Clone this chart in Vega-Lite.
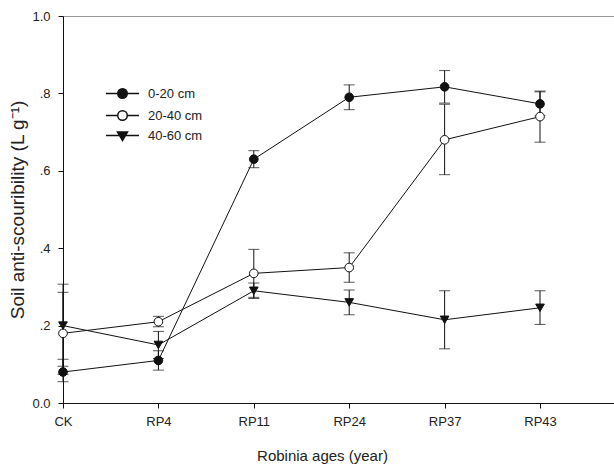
{
  "$schema": "https://vega.github.io/schema/vega-lite/v6.json",
  "autosize": {"type": "none"},
  "padding": {"left": 63, "top": 16, "right": 0, "bottom": 63},
  "width": 552,
  "height": 387,
  "config": {
    "font": "Liberation Sans",
    "view": {"stroke": "#999", "strokeWidth": 1},
    "axis": {"grid": false, "domainColor": "#111", "tickColor": "#111", "labelColor": "#222", "titleColor": "#222", "labelFontSize": 13, "titleFontSize": 15, "titleFontWeight": "normal", "tickSize": 5},
    "legend": {"labelFontSize": 13, "labelColor": "#222", "padding": 0}
  },
  "data": {"values": [
    {"depth": "0-20 cm", "age": 0, "value": 0.08, "lo": 0.055, "hi": 0.113},
    {"depth": "0-20 cm", "age": 1, "value": 0.11, "lo": 0.085, "hi": 0.135},
    {"depth": "0-20 cm", "age": 2, "value": 0.63, "lo": 0.608, "hi": 0.652},
    {"depth": "0-20 cm", "age": 3, "value": 0.79, "lo": 0.758, "hi": 0.822},
    {"depth": "0-20 cm", "age": 4, "value": 0.817, "lo": 0.775, "hi": 0.859},
    {"depth": "0-20 cm", "age": 5, "value": 0.773, "lo": 0.742, "hi": 0.804},
    {"depth": "20-40 cm", "age": 0, "value": 0.18, "lo": 0.074, "hi": 0.286},
    {"depth": "20-40 cm", "age": 1, "value": 0.21, "lo": 0.197, "hi": 0.224},
    {"depth": "20-40 cm", "age": 2, "value": 0.335, "lo": 0.273, "hi": 0.397},
    {"depth": "20-40 cm", "age": 3, "value": 0.35, "lo": 0.312, "hi": 0.388},
    {"depth": "20-40 cm", "age": 4, "value": 0.68, "lo": 0.59, "hi": 0.772},
    {"depth": "20-40 cm", "age": 5, "value": 0.74, "lo": 0.674, "hi": 0.806},
    {"depth": "40-60 cm", "age": 0, "value": 0.2, "lo": 0.095, "hi": 0.307},
    {"depth": "40-60 cm", "age": 1, "value": 0.15, "lo": 0.115, "hi": 0.185},
    {"depth": "40-60 cm", "age": 2, "value": 0.29, "lo": 0.27, "hi": 0.31},
    {"depth": "40-60 cm", "age": 3, "value": 0.26, "lo": 0.228, "hi": 0.292},
    {"depth": "40-60 cm", "age": 4, "value": 0.215, "lo": 0.14, "hi": 0.29},
    {"depth": "40-60 cm", "age": 5, "value": 0.246, "lo": 0.203, "hi": 0.29}
  ]},
  "encoding": {
    "x": {"field": "age", "type": "quantitative",
      "scale": {"domain": [0, 5.786], "nice": false, "zero": false},
      "axis": {"title": "Robinia ages (year)", "values": [0, 1, 2, 3, 4, 5],
        "labelExpr": "['CK','RP4','RP11','RP24','RP37','RP43'][datum.value]",
        "labelPadding": 7, "titleX": 259, "titleY": 57, "titleBaseline": "alphabetic", "titleAnchor": "middle", "labelFlush": false}},
    "y": {"field": "value", "type": "quantitative",
      "scale": {"domain": [0, 1], "nice": false},
      "axis": {"title": "Soil anti-scouribility (L g⁻¹)", "values": [0, 0.2, 0.4, 0.6, 0.8, 1],
        "labelExpr": "datum.value == 0 ? '0.0' : datum.value == 1 ? '1.0' : replace(format(datum.value, '.1f'), '0.', '.')",
        "labelPadding": 8, "titlePadding": 4, "titleFontSize": 19}}
  },
  "layer": [
    {"mark": {"type": "line", "color": "#111", "strokeWidth": 1},
     "encoding": {"detail": {"field": "depth"}}},
    {"mark": {"type": "rule", "color": "#111", "strokeWidth": 1},
     "encoding": {"y": {"field": "lo", "type": "quantitative"}, "y2": {"field": "hi"}}},
    {"mark": {"type": "tick", "orient": "horizontal", "color": "#111", "size": 11, "thickness": 1},
     "encoding": {"y": {"field": "lo", "type": "quantitative"}}},
    {"mark": {"type": "tick", "orient": "horizontal", "color": "#111", "size": 11, "thickness": 1},
     "encoding": {"y": {"field": "hi", "type": "quantitative"}}},
    {"mark": {"type": "point", "filled": true, "stroke": "#111", "strokeWidth": 1, "size": 75, "opacity": 1},
     "encoding": {
       "shape": {"field": "depth", "type": "nominal", "scale": {"domain": ["0-20 cm", "20-40 cm", "40-60 cm"], "range": ["circle", "circle", "triangle-down"]}, "legend": null},
       "fill": {"field": "depth", "type": "nominal", "scale": {"domain": ["0-20 cm", "20-40 cm", "40-60 cm"], "range": ["#111", "white", "#111"]}, "legend": null}
     }},
    {"transform": [{"filter": "false"}],
     "mark": {"type": "point", "filled": true, "strokeWidth": 1, "opacity": 1},
     "encoding": {
       "shape": {"field": "depth", "type": "nominal",
         "scale": {"domain": ["0-20 cm", "20-40 cm", "40-60 cm"], "range": [
           "M -3.3 0 L -0.95 0 A 0.95 0.95 0 1 1 0.95 0 A 0.95 0.95 0 1 1 -0.95 0 M 0.95 0 L 3.3 0",
           "M -3.3 0 L -0.95 0 A 0.95 0.95 0 1 1 0.95 0 A 0.95 0.95 0 1 1 -0.95 0 M 0.95 0 L 3.3 0",
           "M -3.3 0 L 3.3 0 M -1 -0.7 L 1 -0.7 L 0 1 Z"]},
         "legend": {"title": null, "orient": "none", "legendX": 53, "legendY": 71, "symbolSize": 100, "labelOffset": 19, "rowPadding": 5}},
       "fill": {"field": "depth", "type": "nominal",
         "scale": {"domain": ["0-20 cm", "20-40 cm", "40-60 cm"], "range": ["#111", "white", "#111"]},
         "legend": {"title": null, "orient": "none", "legendX": 53, "legendY": 71, "symbolSize": 100, "labelOffset": 19, "rowPadding": 5}},
       "stroke": {"field": "depth", "type": "nominal",
         "scale": {"domain": ["0-20 cm", "20-40 cm", "40-60 cm"], "range": ["#111", "#111", "#111"]},
         "legend": {"title": null, "orient": "none", "legendX": 53, "legendY": 71, "symbolSize": 100, "labelOffset": 19, "rowPadding": 5}}
     }}
  ],
  "resolve": {"scale": {"shape": "independent", "fill": "independent", "stroke": "independent"}}
}
